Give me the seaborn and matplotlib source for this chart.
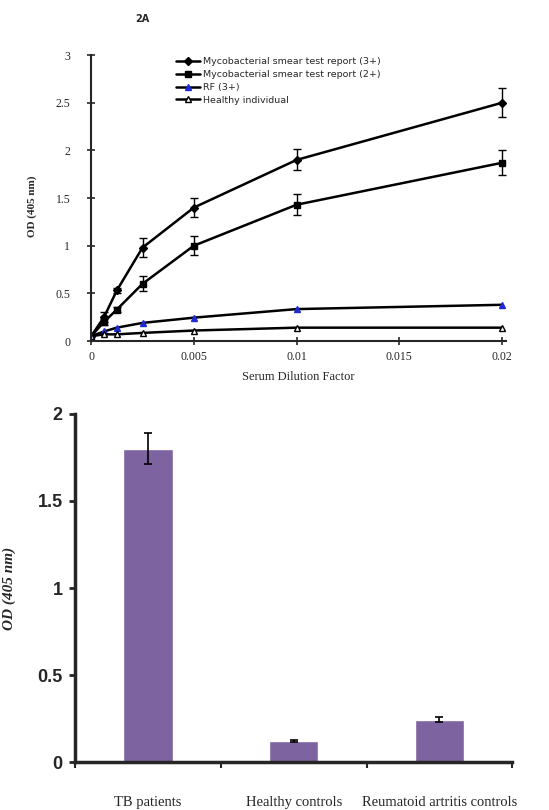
import numpy as np
import pandas as pd
import matplotlib
matplotlib.use('Agg')
import matplotlib.pyplot as plt
import seaborn as sns

# dilution curve data (panel 2A)
dilution = [0, 0.000625, 0.00125, 0.0025, 0.005, 0.01, 0.02]
smear_3 = [0.05, 0.25, 0.53, 0.98, 1.40, 1.90, 2.50]
smear_3_err = [0, 0.05, 0.03, 0.10, 0.10, 0.11, 0.15]
smear_2 = [0.05, 0.20, 0.33, 0.60, 1.00, 1.43, 1.87]
smear_2_err = [0, 0.03, 0.03, 0.08, 0.10, 0.11, 0.13]
rf = [0.05, 0.10, 0.14, 0.19, 0.245, 0.335, 0.38]
healthy = [0.05, 0.07, 0.07, 0.085, 0.11, 0.14, 0.14]

series_names = ['Mycobacterial smear test report (3+)',
                'Mycobacterial smear test report (2+)',
                'RF (3+)',
                'Healthy individual']

# group comparison data
groups = ['TB patients', 'Healthy controls', 'Reumatoid artritis controls']
group_od = [1.80, 0.12, 0.245]
group_err = [0.09, 0.006, 0.015]

sns.set_style('ticks')
serif = ['Liberation Serif', 'DejaVu Serif']
sans = ['Liberation Sans', 'DejaVu Sans']

fig = plt.figure(figsize=(5.49, 8.10), dpi=100)

# ---- top panel ----
ax1 = fig.add_axes([0.166, 0.579, 0.756, 0.353])
styles = [
    (smear_3, smear_3_err, 'D', 'black', 'black', 4),
    (smear_2, smear_2_err, 's', 'black', 'black', 5),
    (rf, None, '^', '#1f2bd0', '#1f2bd0', 5),
    (healthy, None, '^', 'white', 'black', 5),
]
for name, (vals, err, mk, fc, ec, ms) in zip(series_names, styles):
    df = pd.DataFrame({'x': dilution, 'y': vals})
    sns.lineplot(data=df, x='x', y='y', ax=ax1, color='black', lw=1.8,
                 marker=mk, markersize=ms, markerfacecolor=fc,
                 markeredgecolor=ec, markeredgewidth=1.0, label=name)
    if err is not None:
        ax1.errorbar(dilution, vals, yerr=err, fmt='none', ecolor='black',
                     elinewidth=1.0, capsize=3, capthick=1.0)

ax1.set_xlim(0, 0.0202)
ax1.set_ylim(0, 3)
ax1.set_xticks([0, 0.005, 0.01, 0.015, 0.02])
ax1.set_xticklabels(['0', '0.005', '0.01', '0.015', '0.02'])
ax1.set_yticks([0, 0.5, 1, 1.5, 2, 2.5, 3])
ax1.set_yticklabels(['0', '0.5', '1', '1.5', '2', '2.5', '3'])
ax1.tick_params(direction='inout', length=6, width=1.2, labelsize=8.5)
ax1.tick_params(axis='y', pad=12)
ax1.tick_params(axis='x', pad=4)
for lab in ax1.get_xticklabels() + ax1.get_yticklabels():
    lab.set_family(serif)
sns.despine(ax=ax1)
for sp in ['left', 'bottom']:
    ax1.spines[sp].set_linewidth(1.5)
ax1.set_xlabel('Serum Dilution Factor', family=serif, fontsize=9, labelpad=6)
ax1.set_ylabel('OD (405 nm)', family=serif, fontsize=8, fontweight='bold')
ax1.yaxis.set_label_coords(-0.13, 0.47)
ax1.legend(loc='upper left', bbox_to_anchor=(0.195, 1.005), frameon=False,
           fontsize=6.8, handlelength=2.6, handletextpad=0.3, labelspacing=0.4,
           borderaxespad=0)

fig.text(0.26, 0.977, '2A', fontsize=7, fontweight='bold', ha='center', va='center')

# ---- bottom panel ----
ax2 = fig.add_axes([0.137, 0.059, 0.796, 0.430])
bar_df = pd.DataFrame({'group': groups, 'od': group_od})
sns.barplot(data=bar_df, x='group', y='od', order=groups, color='#7E63A1',
            saturation=1, width=0.34, errorbar=None, ax=ax2)
ax2.errorbar(range(len(groups)), group_od, yerr=group_err, fmt='none',
             ecolor='black', elinewidth=1.2, capsize=3, capthick=1.2)
ax2.set_xlim(-0.5, 2.5)
ax2.set_ylim(0, 2)
ax2.set_yticks([0, 0.5, 1, 1.5, 2])
ax2.set_yticklabels(['0', '0.5', '1', '1.5', '2'])
ax2.set_xticks([-0.5, 0.5, 1.5, 2.5])
ax2.set_xticklabels([])
ax2.set_xticks(range(len(groups)), minor=True)
ax2.set_xticklabels(groups, minor=True, family=serif, fontsize=10.5)
ax2.tick_params(axis='x', which='minor', length=0, pad=24)
ax2.tick_params(axis='x', which='major', direction='out', length=4, width=1.5)
ax2.tick_params(axis='y', direction='out', length=4, width=2, labelsize=13, pad=5)
for lab in ax2.get_yticklabels():
    lab.set_family(sans)
    lab.set_fontweight('bold')
sns.despine(ax=ax2)
for sp in ['left', 'bottom']:
    ax2.spines[sp].set_linewidth(2.5)
ax2.set_xlabel('')
ax2.set_ylabel('OD (405 nm)', family=serif, fontsize=11, fontweight='bold',
               style='italic')
ax2.yaxis.set_label_coords(-0.135, 0.5)

fig.savefig('out.png', dpi=100)
